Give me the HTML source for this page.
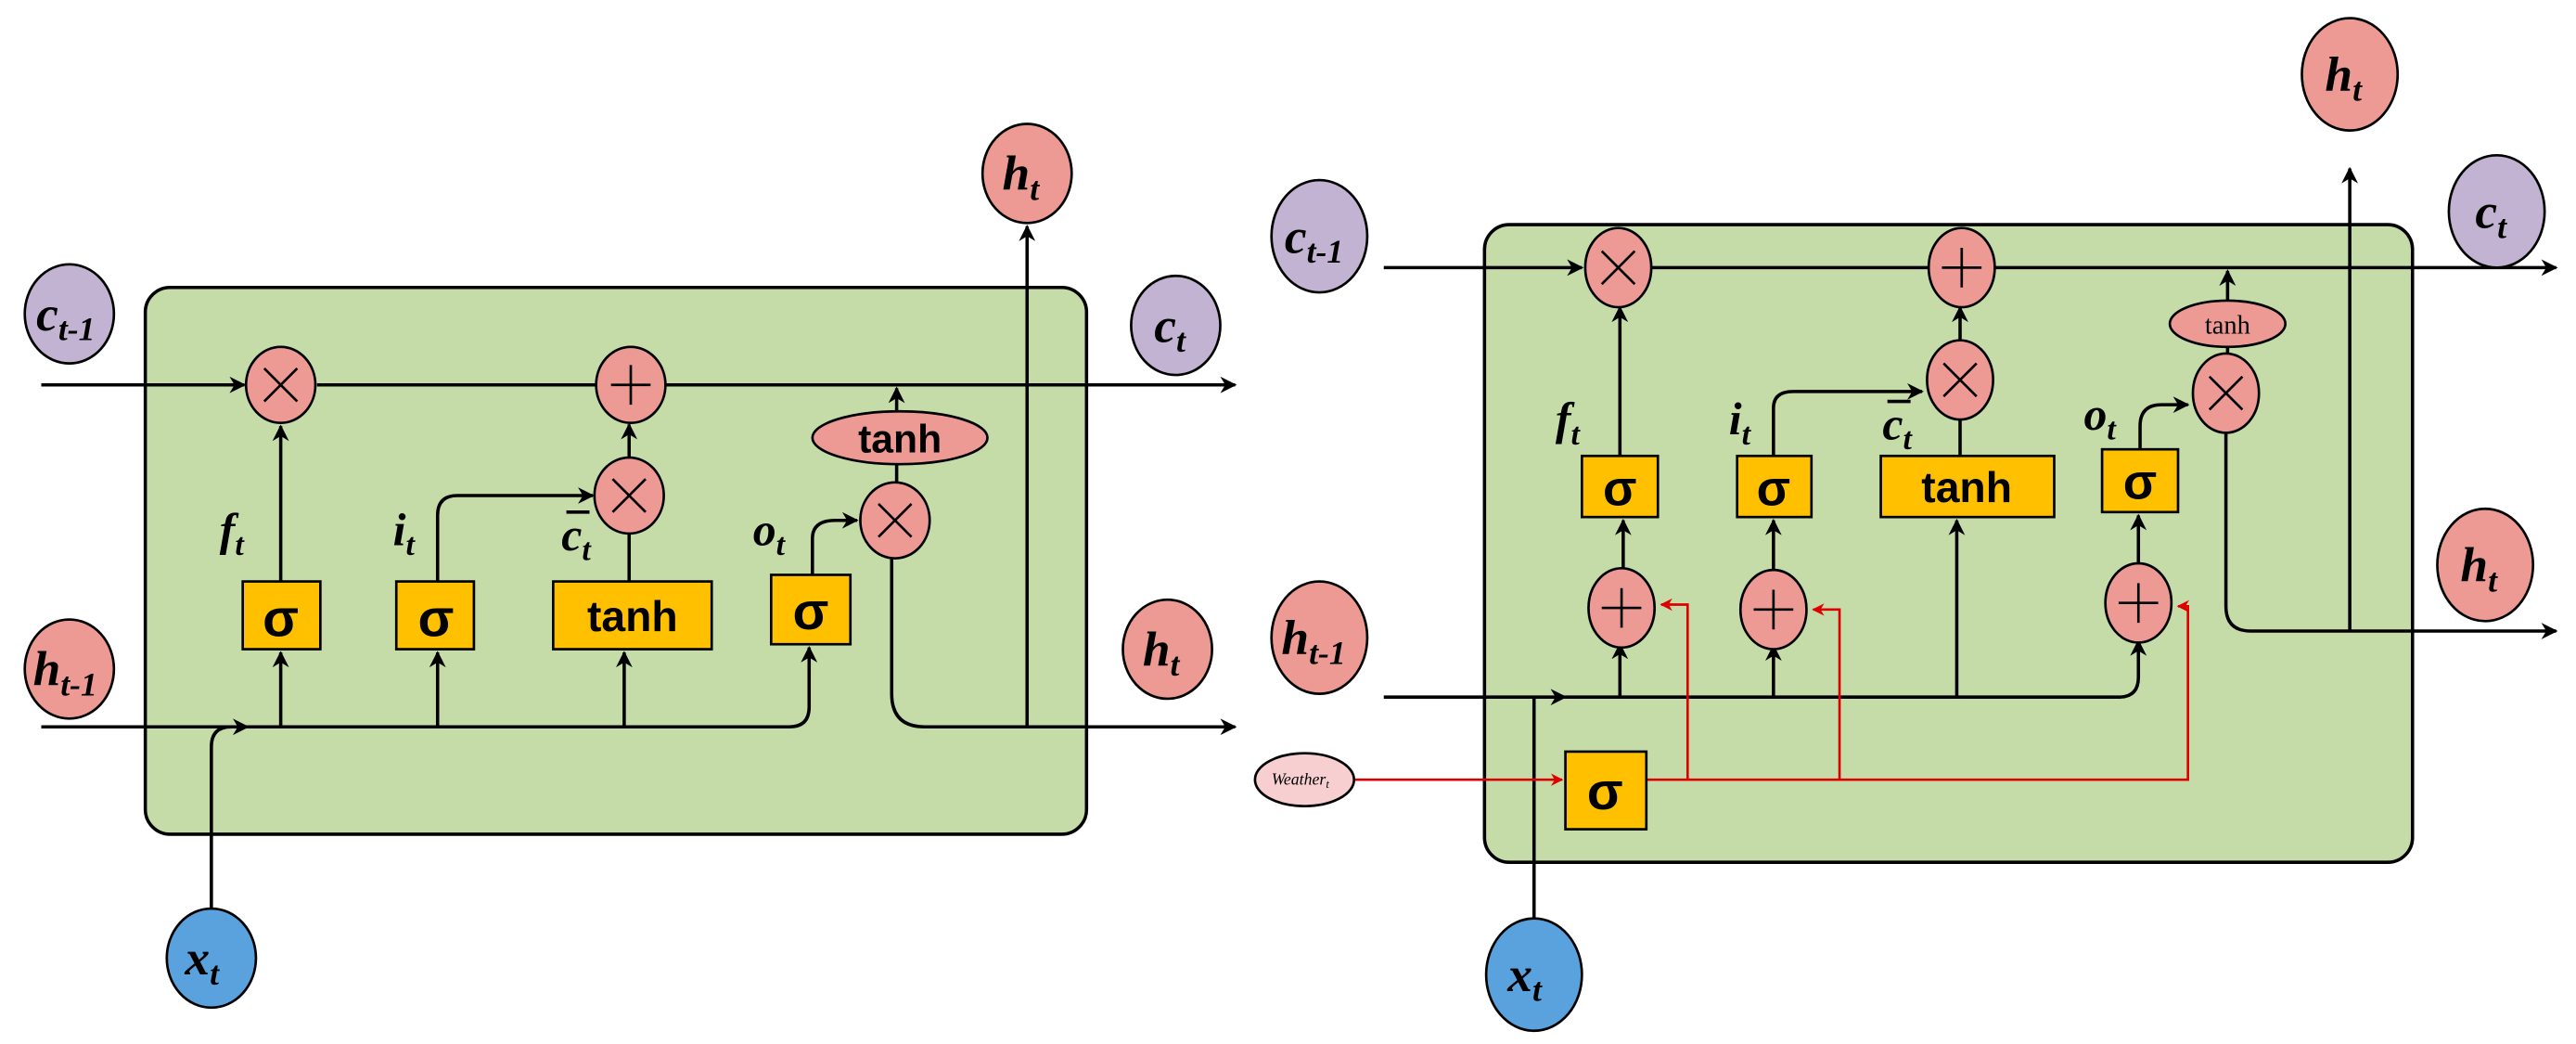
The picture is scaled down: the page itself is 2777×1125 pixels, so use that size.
<!DOCTYPE html>
<html><head><meta charset="utf-8"><style>html,body{margin:0;padding:0;background:#fff}svg{display:block}</style></head><body>
<svg width="2777" height="1125" viewBox="0 0 1560 632" preserveAspectRatio="none" xmlns="http://www.w3.org/2000/svg">
<defs>
<marker id="a" viewBox="0 0 10 10" refX="9" refY="5" markerWidth="5" markerHeight="5" orient="auto"><path d="M0,0L10,5L0,10L3,5z" fill="#000"/></marker>
<marker id="r" viewBox="0 0 10 10" refX="9" refY="5" markerWidth="5" markerHeight="5" orient="auto"><path d="M0,0L10,5L0,10L3,5z" fill="#d00"/></marker>
</defs>
<style>
.l{stroke:#000;stroke-width:2;fill:none}
.rd{stroke:#d00;stroke-width:1.5;fill:none}
.op{fill:#ee9a94;stroke:#000;stroke-width:1.5}
.bx{fill:#ffc000;stroke:#000;stroke-width:1.5}
.lb{font-family:"Liberation Serif",serif;font-style:italic;font-weight:bold;fill:#000}
.sg{font-family:"Liberation Sans",sans-serif;font-weight:bold;fill:#000;text-anchor:middle}
.sym{stroke:#000;stroke-width:1.5;fill:none}
</style>

<!-- LEFT -->
<rect x="88" y="174" width="570" height="331" rx="15" fill="#c5dca8" stroke="#000" stroke-width="2"/>
<line class="l" x1="25" y1="233" x2="148" y2="233" marker-end="url(#a)"/>
<line class="l" x1="192" y1="233" x2="748" y2="233" marker-end="url(#a)"/>
<line class="l" x1="25" y1="440" x2="150" y2="440" marker-end="url(#a)"/>
<path class="l" d="M150,440 H478 Q490,440 490,428 V392" marker-end="url(#a)"/>
<path class="l" d="M128,555 V452 Q128,440 140,440"/>
<line class="l" x1="170" y1="440" x2="170" y2="395" marker-end="url(#a)"/>
<line class="l" x1="170" y1="352" x2="170" y2="258" marker-end="url(#a)"/>
<line class="l" x1="265" y1="440" x2="265" y2="395" marker-end="url(#a)"/>
<path class="l" d="M265,352 V312 Q265,300 277,300 H359" marker-end="url(#a)"/>
<line class="l" x1="378" y1="440" x2="378" y2="395" marker-end="url(#a)"/>
<line class="l" x1="381" y1="352" x2="381" y2="323"/>
<line class="l" x1="381" y1="278" x2="381" y2="257" marker-end="url(#a)"/>
<path class="l" d="M492,348 V326 Q492,315 506,315 H519" marker-end="url(#a)"/>
<line class="l" x1="543" y1="292" x2="543" y2="281"/>
<line class="l" x1="543" y1="249" x2="543" y2="235" marker-end="url(#a)"/>
<path class="l" d="M540,338 V420 Q540,440 560,440 H748" marker-end="url(#a)"/>
<line class="l" x1="622" y1="440" x2="622" y2="137" marker-end="url(#a)"/>
<ellipse class="op" cx="170" cy="233" rx="21" ry="23"/><path class="sym" d="M160,223L180,243M180,223L160,243"/>
<ellipse class="op" cx="382" cy="233" rx="21" ry="23"/><path class="sym" d="M382,221V245M370,233H394" stroke-width="2.5"/>
<ellipse class="op" cx="381" cy="300" rx="21" ry="23"/><path class="sym" d="M371,290L391,310M391,290L371,310"/>
<ellipse class="op" cx="542" cy="315" rx="21" ry="23"/><path class="sym" d="M532,305L552,325M552,305L532,325"/>
<ellipse class="op" cx="545" cy="265" rx="53" ry="16"/><text class="sg" x="545" y="274" font-size="24">tanh</text>
<rect class="bx" x="147" y="352" width="47" height="41"/><text class="sg" x="170" y="385" font-size="32">σ</text>
<rect class="bx" x="240" y="352" width="47" height="41"/><text class="sg" x="264" y="385" font-size="32">σ</text>
<rect class="bx" x="335" y="352" width="96" height="41"/><text class="sg" x="383" y="382" font-size="26">tanh</text>
<rect class="bx" x="467" y="348" width="48" height="42"/><text class="sg" x="491" y="381" font-size="32">σ</text>
<text class="lb" x="133" y="330" font-size="28">f<tspan font-size="19" dy="6">t</tspan></text>
<text class="lb" x="238" y="330" font-size="28">i<tspan font-size="19" dy="6">t</tspan></text>
<text class="lb" x="340" y="333" font-size="28">c<tspan font-size="19" dy="6">t</tspan></text>
<line x1="343" y1="310" x2="357" y2="310" stroke="#000" stroke-width="2"/>
<text class="lb" x="456" y="330" font-size="28">o<tspan font-size="19" dy="6">t</tspan></text>
<ellipse cx="42" cy="190" rx="27" ry="30" fill="#c3b3d3" stroke="#000" stroke-width="1.5"/><text class="lb" x="22" y="200" font-size="30">c<tspan font-size="20" dy="6">t-1</tspan></text>
<ellipse class="op" cx="42" cy="405" rx="27" ry="30"/><text class="lb" x="20" y="415" font-size="30">h<tspan font-size="20" dy="6">t-1</tspan></text>
<ellipse cx="128" cy="580" rx="27" ry="30" fill="#5aa2dd" stroke="#000" stroke-width="1.5"/><text class="lb" x="112" y="590" font-size="30">x<tspan font-size="20" dy="6">t</tspan></text>
<ellipse class="op" cx="622" cy="105" rx="27" ry="30"/><text class="lb" x="607" y="115" font-size="30">h<tspan font-size="20" dy="6">t</tspan></text>
<ellipse cx="712" cy="197" rx="27" ry="30" fill="#c3b3d3" stroke="#000" stroke-width="1.5"/><text class="lb" x="699" y="207" font-size="30">c<tspan font-size="20" dy="6">t</tspan></text>
<ellipse class="op" cx="707" cy="393" rx="27" ry="30"/><text class="lb" x="692" y="403" font-size="30">h<tspan font-size="20" dy="6">t</tspan></text>

<!-- RIGHT -->
<rect x="899" y="136" width="562" height="386" rx="15" fill="#c5dca8" stroke="#000" stroke-width="2"/>
<line class="l" x1="838" y1="162" x2="958" y2="162" marker-end="url(#a)"/>
<line class="l" x1="1000" y1="162" x2="1548" y2="162" marker-end="url(#a)"/>
<line class="l" x1="838" y1="422" x2="948" y2="422" marker-end="url(#a)"/>
<path class="l" d="M948,422 H1283 Q1295,422 1295,410 V388" marker-end="url(#a)"/>
<line class="l" x1="929" y1="565" x2="929" y2="422"/>
<line class="l" x1="981" y1="422" x2="981" y2="390" marker-end="url(#a)"/>
<line class="l" x1="983" y1="347" x2="983" y2="315" marker-end="url(#a)"/>
<line class="l" x1="981" y1="276" x2="981" y2="186" marker-end="url(#a)"/>
<line class="l" x1="1074" y1="422" x2="1074" y2="391" marker-end="url(#a)"/>
<line class="l" x1="1074" y1="348" x2="1074" y2="315" marker-end="url(#a)"/>
<path class="l" d="M1074,276 V247 Q1074,237 1086,237 H1164" marker-end="url(#a)"/>
<line class="l" x1="1185" y1="422" x2="1185" y2="315" marker-end="url(#a)"/>
<line class="l" x1="1187" y1="276" x2="1187" y2="253"/>
<line class="l" x1="1187" y1="208" x2="1187" y2="186" marker-end="url(#a)"/>
<line class="l" x1="1295" y1="344" x2="1295" y2="312" marker-end="url(#a)"/>
<path class="l" d="M1296,272 V258 Q1296,245 1309,245 H1325" marker-end="url(#a)"/>
<line class="l" x1="1349" y1="216" x2="1349" y2="210"/>
<line class="l" x1="1349" y1="182" x2="1349" y2="164" marker-end="url(#a)"/>
<path class="l" d="M1348,260 V367 Q1348,382 1363,382 H1548" marker-end="url(#a)"/>
<line class="l" x1="1423" y1="382" x2="1423" y2="102" marker-end="url(#a)"/>
<!-- red -->
<line class="rd" x1="820" y1="472" x2="946" y2="472" marker-end="url(#r)"/>
<path class="rd" d="M997,472 H1325 V367 H1319" marker-end="url(#r)"/>
<path class="rd" d="M1022,472 V366 H1006" marker-end="url(#r)"/>
<path class="rd" d="M1114,472 V369 H1098" marker-end="url(#r)"/>
<ellipse class="op" cx="980" cy="162" rx="20" ry="24"/><path class="sym" d="M970,152L990,172M990,152L970,172"/>
<ellipse class="op" cx="1188" cy="162" rx="20" ry="24"/><path class="sym" d="M1188,150V174M1176,162H1200" stroke-width="2.5"/>
<ellipse class="op" cx="1187" cy="230" rx="20" ry="24"/><path class="sym" d="M1177,220L1197,240M1197,220L1177,240"/>
<ellipse class="op" cx="1348" cy="238" rx="20" ry="24"/><path class="sym" d="M1338,228L1358,248M1358,228L1338,248"/>
<ellipse class="op" cx="1349" cy="196" rx="35" ry="14"/><text class="sg" x="1349" y="202" font-size="16" font-weight="normal" style="font-family:'Liberation Serif',serif;font-weight:normal">tanh</text>
<ellipse class="op" cx="982" cy="368" rx="20" ry="24"/><path class="sym" d="M982,356V380M970,368H994" stroke-width="2.5"/>
<ellipse class="op" cx="1074" cy="369" rx="20" ry="24"/><path class="sym" d="M1074,357V381M1062,369H1086" stroke-width="2.5"/>
<ellipse class="op" cx="1295" cy="365" rx="20" ry="24"/><path class="sym" d="M1295,353V377M1283,365H1307" stroke-width="2.5"/>
<rect class="bx" x="958" y="276" width="46" height="37"/><text class="sg" x="981" y="306" font-size="30">σ</text>
<rect class="bx" x="1052" y="276" width="45" height="37"/><text class="sg" x="1074" y="306" font-size="30">σ</text>
<rect class="bx" x="1139" y="276" width="105" height="37"/><text class="sg" x="1191" y="304" font-size="26">tanh</text>
<rect class="bx" x="1273" y="272" width="46" height="38"/><text class="sg" x="1296" y="302" font-size="30">σ</text>
<rect class="bx" x="948" y="455" width="49" height="47"/><text class="sg" x="972" y="490" font-size="32">σ</text>
<text class="lb" x="942" y="263" font-size="28">f<tspan font-size="19" dy="6">t</tspan></text>
<text class="lb" x="1047" y="263" font-size="28">i<tspan font-size="19" dy="6">t</tspan></text>
<text class="lb" x="1140" y="266" font-size="28">c<tspan font-size="19" dy="6">t</tspan></text>
<line x1="1143" y1="243" x2="1157" y2="243" stroke="#000" stroke-width="2"/>
<text class="lb" x="1262" y="260" font-size="28">o<tspan font-size="19" dy="6">t</tspan></text>
<ellipse cx="799" cy="143" rx="29" ry="34" fill="#c3b3d3" stroke="#000" stroke-width="1.5"/><text class="lb" x="778" y="153" font-size="30">c<tspan font-size="20" dy="6">t-1</tspan></text>
<ellipse class="op" cx="799" cy="386" rx="29" ry="34"/><text class="lb" x="776" y="396" font-size="30">h<tspan font-size="20" dy="6">t-1</tspan></text>
<ellipse cx="790" cy="472" rx="30" ry="16" fill="#f8cfd0" stroke="#000" stroke-width="1.5"/><text x="770" y="475" font-size="10" font-style="italic" font-family="Liberation Serif,serif">Weather<tspan font-size="7" dy="2">t</tspan></text>
<ellipse cx="929" cy="590" rx="29" ry="34" fill="#5aa2dd" stroke="#000" stroke-width="1.5"/><text class="lb" x="913" y="600" font-size="30">x<tspan font-size="20" dy="6">t</tspan></text>
<ellipse class="op" cx="1423" cy="45" rx="29" ry="34"/><text class="lb" x="1408" y="55" font-size="30">h<tspan font-size="20" dy="6">t</tspan></text>
<ellipse cx="1512" cy="128" rx="29" ry="34" fill="#c3b3d3" stroke="#000" stroke-width="1.5"/><text class="lb" x="1499" y="138" font-size="30">c<tspan font-size="20" dy="6">t</tspan></text>
<ellipse class="op" cx="1505" cy="342" rx="29" ry="34"/><text class="lb" x="1490" y="352" font-size="30">h<tspan font-size="20" dy="6">t</tspan></text>
</svg>
</body></html>
